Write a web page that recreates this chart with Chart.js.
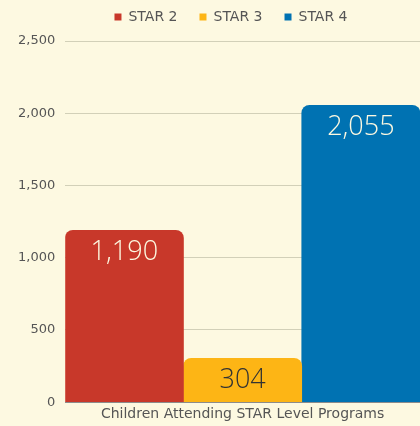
<!DOCTYPE html>
<html>
<head>
<meta charset="utf-8">
<script src="https://cdn.jsdelivr.net/npm/chart.js@4/dist/chart.umd.min.js"></script>
<style>
    html, body { margin: 0; padding: 0; background: #fdf9e1; }
    #wrap { width: 420px; height: 426px; }
</style>
</head>
<body>
<div id="wrap"><canvas id="starChart"></canvas></div>
<script>
const categories = ["Children Attending STAR Level Programs"];
const seriesNames = ["STAR 2", "STAR 3", "STAR 4"];
const star2 = [1190];
const star3 = [304];
const star4 = [2055];
const yTicks = [0, 500, 1000, 1500, 2000, 2500];

const colors = ["#c8382a", "#fdb515", "#0072b2"];
const labelColors = ["#fdf9e1", "#333333", "#fdf9e1"];
const fontFamily = "'DejaVu Sans', sans-serif";

// Draw the value inside the top of each bar
const barValueLabels = {
    id: "barValueLabels",
    afterDatasetsDraw(chart) {
        const ctx = chart.ctx;
        chart.data.datasets.forEach((ds, i) => {
            const meta = chart.getDatasetMeta(i);
            meta.data.forEach((bar, j) => {
                ctx.save();
                ctx.font = "300 27px 'Open Sans', sans-serif";
                ctx.fillStyle = labelColors[i];
                ctx.textAlign = "center";
                ctx.textBaseline = "middle";
                ctx.fillText(ds.data[j].toLocaleString("en-US"), bar.x, bar.y + 22);
                ctx.restore();
            });
        });
    }
};

// legend items are spaced wide apart, so move the legend box up and right a bit
const legendShift = {
    id: "legendShift",
    afterLayout(chart) {
        const lg = chart.legend;
        lg.top -= 12;
        lg.bottom -= 12;
        lg.left += 17;
        lg.right += 17;
    }
};

const ctx = document.getElementById("starChart").getContext("2d");
new Chart(ctx, {
    type: "bar",
    data: {
        labels: categories,
        datasets: [star2, star3, star4].map((vals, i) => ({
            label: seriesNames[i],
            data: vals,
            backgroundColor: colors[i],
            borderRadius: { topLeft: 8, topRight: 8 },
            borderSkipped: "bottom",
            categoryPercentage: 1,
            barPercentage: 1
        }))
    },
    options: {
        responsive: true,
        maintainAspectRatio: false,
        animation: false,
        layout: { padding: { left: 8, right: 0, top: 0, bottom: 0 } },
        plugins: {
            legend: {
                position: "top",
                maxHeight: 41,
                labels: {
                    boxWidth: 7,
                    boxHeight: 7,
                    padding: 22,
                    color: "#555",
                    font: { family: fontFamily, size: 14 }
                }
            },
            tooltip: { enabled: false }
        },
        scales: {
            x: {
                grid: { display: false, drawTicks: false },
                border: { color: "#8c8c8c" },
                ticks: { color: "#555", padding: 7, font: { family: fontFamily, size: 14, lineHeight: 0.7 } }
            },
            y: {
                min: 0,
                max: 2500,
                afterBuildTicks: (axis) => { axis.ticks = yTicks.map(v => ({ value: v })); },
                grid: { color: "#d2d0b8", drawTicks: false },
                border: { display: false },
                ticks: {
                    color: "#555",
                    padding: 10,
                    font: { family: fontFamily, size: 13 },
                    callback: (v) => v.toLocaleString("en-US")
                }
            }
        }
    },
    plugins: [barValueLabels, legendShift]
});
</script>
</body>
</html>
